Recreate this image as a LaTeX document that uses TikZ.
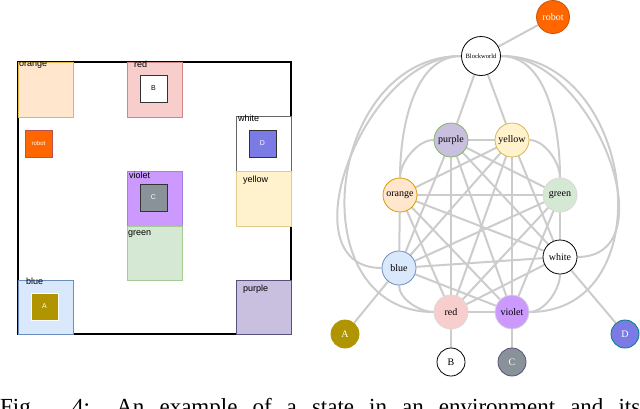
\documentclass[tikz,border=0pt]{standalone}
\usepackage{fontspec}
\setmainfont{Liberation Serif}
\newfontfamily\sfx{Liberation Sans}
\begin{document}
\begin{tikzpicture}[x=1pt,y=-1pt,
 rl/.style={anchor=north west,inner sep=1pt,font=\sfx\fontsize{9}{9}\selectfont},
 blk/.style={draw=black!80,line width=0.8pt},
 gn/.style={circle,minimum size=34pt,inner sep=0pt,line width=0.8pt,font=\fontsize{10}{10}\selectfont},
 sn/.style={circle,minimum size=28pt,inner sep=0pt,line width=0.8pt,font=\fontsize{10}{10}\selectfont},
 ed/.style={draw=black!20,line width=2pt}]
\definecolor{cor}{HTML}{FFE6CC}\definecolor{bor}{HTML}{D79B00}
\definecolor{cre}{HTML}{F8CECC}\definecolor{bre}{HTML}{B85450}
\definecolor{cye}{HTML}{FFF2CC}\definecolor{bye}{HTML}{D6B656}
\definecolor{cvi}{HTML}{CC99FF}\definecolor{bvi}{HTML}{A680E0}
\definecolor{cgr}{HTML}{D5E8D4}\definecolor{bgr}{HTML}{82B366}
\definecolor{cbl}{HTML}{DAE8FC}\definecolor{bbl}{HTML}{6C8EBF}
\definecolor{cpu}{HTML}{C9C0E0}\definecolor{bpu}{HTML}{56517E}
\definecolor{cA}{HTML}{B09500}\definecolor{cC}{HTML}{8A9299}
\definecolor{cD}{HTML}{7B7BE6}\definecolor{cro}{HTML}{FF6600}
\pgfdeclarelayer{bg}\pgfsetlayers{bg,main}
\useasboundingbox (0,0) rectangle (640,408);
% left panel
\draw[line width=1.5pt] (18,62) rectangle (291,334);
\draw[fill=cor,draw=bor!70] (18,62) rectangle (73,117); \node[rl] at (18,60) {orange};
\draw[fill=cre,draw=bre!70] (127,62) rectangle (182,117); \node[rl] at (133,60) {red};
\draw[fill=white,blk] (140,75) rectangle (167,102); \node[font=\sfx\fontsize{7}{7}\selectfont] at (153.5,88.5) {B};
\draw[fill=white,draw=black!60,line width=0.8pt] (236,116) rectangle (291,171); \node[rl] at (237,114) {white};
\draw[fill=cD,blk] (249,130) rectangle (276,157); \node[text=white,font=\sfx\fontsize{7}{7}\selectfont] at (262.5,143.5) {D};
\draw[fill=cye,draw=bye!70] (236,171) rectangle (291,226); \node[rl] at (242,175) {yellow};
\draw[fill=cvi,draw=bvi] (127,171) rectangle (182,226); \node[rl] at (128,171) {violet};
\draw[fill=cC,blk] (140,184) rectangle (167,211); \node[text=white,font=\sfx\fontsize{7}{7}\selectfont] at (153.5,197.5) {C};
\draw[fill=cgr,draw=bgr!70] (127,226) rectangle (182,280); \node[rl] at (127,229) {green};
\draw[fill=cbl,draw=bbl] (18,280) rectangle (73,334); \node[rl] at (25,277) {blue};
\draw[fill=cA,draw=white] (31,293) rectangle (58,320); \node[text=white,font=\sfx\fontsize{7}{7}\selectfont] at (44.5,306.5) {A};
\draw[fill=cpu,draw=bpu] (236,280) rectangle (291,334); \node[rl] at (242,284) {purple};
\draw[fill=cro,draw=bre] (25,130) rectangle (52,157); \node[text=white,font=\sfx\fontsize{6}{6}\selectfont] at (38.5,143.5) {robot};
% graph nodes
\node[gn,draw=black,fill=white,minimum size=39pt,font=\fontsize{6.5}{6}\selectfont] (bw) at (481,56) {Blockworld};
\node[sn,fill=cro,draw=cro!80!black,text=white,minimum size=33pt] (ro) at (553,17) {robot};
\node[gn,fill=cpu,draw=bgr] (pu) at (451,140) {purple};
\node[gn,fill=cye,draw=bye] (ye) at (512,140) {yellow};
\node[gn,fill=cor,draw=bor] (or) at (400,195) {orange};
\node[gn,fill=cgr,draw=black!15] (gr) at (560,195) {green};
\node[gn,fill=cbl,draw=bbl] (bl) at (399,268) {blue};
\node[gn,fill=white,draw=black] (wh) at (560,257) {white};
\node[gn,fill=cre,draw=black!15] (re) at (451,312) {red};
\node[gn,fill=cvi,draw=black!15] (vi) at (512,312) {violet};
\node[sn,fill=cA,draw=cA,text=white] (A) at (345,334) {A};
\node[sn,fill=white,draw=black] (B) at (451,362) {B};
\node[sn,fill=cC,draw=bpu,text=white] (C) at (512,362) {C};
\node[sn,fill=cD,draw=teal,text=white] (D) at (625,334) {D};
\begin{pgfonlayer}{bg}
\foreach \a/\b in {pu/re,pu/vi,pu/gr,pu/wh,pu/bl,ye/re,ye/vi,ye/or,ye/bl,ye/wh,or/gr,or/wh,or/re,or/vi,gr/bl,gr/re,gr/vi,bl/wh,bl/vi,wh/re,pu/ye,re/vi,or/bl,gr/wh,re/B,vi/C,bl/A,wh/D,ro/bw,bw/pu,bw/ye}
 \draw[ed] (\a) -- (\b);
\draw[ed] (pu.west) to[out=180,in=90,looseness=0.8] (or.north);
\draw[ed] (ye.east) to[out=0,in=90,looseness=0.8] (gr.north);
\draw[ed] (bl.south) to[out=270,in=180,looseness=0.8] (re.west);
\draw[ed] (wh.south) to[out=270,in=0,looseness=0.8] (vi.east);
\draw[ed] (bw.west) to[out=180,in=90,looseness=0.9] (or.north);
\draw[ed] (bw.west) to[out=180,in=180,looseness=1.1] (bl.west);
\draw[ed] (bw.west) to[out=180,in=180,looseness=1.35] (re.west);
\draw[ed] (bw.east) to[out=0,in=90,looseness=0.9] (gr.north);
\draw[ed] (bw.east) to[out=0,in=0,looseness=1.1] (wh.east);
\draw[ed] (bw.east) to[out=0,in=0,looseness=1.35] (vi.east);
\end{pgfonlayer}
% caption
\node[anchor=base west,inner sep=0pt,font=\fontsize{23}{23}\selectfont] (cap) at (0,414) {\makebox[640pt][s]{Fig. 4: An example of a state in an environment and its}};
\end{tikzpicture}
\end{document}
